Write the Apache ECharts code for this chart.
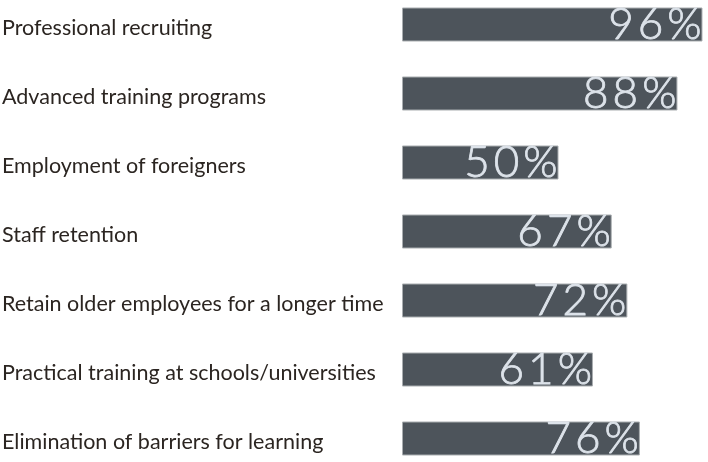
<!DOCTYPE html>
<html><head><meta charset="utf-8">
<script src="https://cdn.jsdelivr.net/npm/echarts@6/dist/echarts.min.js"></script>
<style>html,body{margin:0;padding:0;background:#fff}#c{width:708px;height:462px}</style>
</head><body><div id="c"></div>
<script>
const categories = ["Professional recruiting","Advanced training programs","Employment of foreigners","Staff retention","Retain older employees for a longer time","Practical training at schools/universities","Elimination of barriers for learning"];
const values = [96, 88, 50, 67, 72, 61, 76];
const chart = echarts.init(document.getElementById('c'));
const valFont = {fontFamily:'Lato', fontWeight:300, fontSize:44, color:'#dde3ea', textBorderColor:'#dde3ea', textBorderWidth:0.8};
const catFont = {fontFamily:'Lato', fontSize:21.5, color:'#2b2521'};
chart.setOption({
  animation:false,
  grid:{left:402, top:-10, width:313, height:483, outerBoundsMode:'none', containLabel:false},
  xAxis:{type:'value', min:0, max:100, show:false},
  yAxis:{type:'category', inverse:true, data:categories,
    axisLine:{show:false}, axisTick:{show:false},
    axisLabel:Object.assign({margin:400, align:'left', verticalAlign:'middle',
      formatter:function(v){ return '{a|' + v + '}'; },
      rich:{a:Object.assign({padding:[8,0,0,0]}, catFont)}}, catFont)},
  series:[{type:'bar', data:values, barWidth:34,
    itemStyle:{color:'#4d545b', borderColor:'#a9adb0', borderWidth:1},
    label:{show:true, position:'insideRight', distance:1,
      formatter:function(p){
        const chars = (p.value + '%').split('');
        return chars.map((c,i)=> (i<chars.length-1 ? '{s|' : '{e|') + c + '}').join('');
      },
      rich:{
        s:Object.assign({padding:[0,4,0,0]}, valFont),
        e:Object.assign({}, valFont)
      }}}]
});
</script></body></html>
